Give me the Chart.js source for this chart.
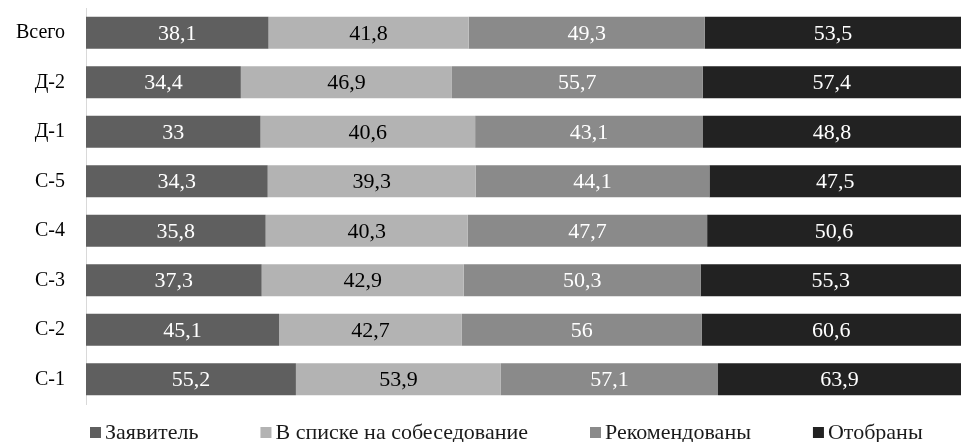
<!DOCTYPE html>
<html>
<head>
<meta charset="utf-8">
<script src="https://cdn.jsdelivr.net/npm/chart.js@4"></script>
<style>
  html, body { margin: 0; padding: 0; background: #fff; }
  #wrap { width: 961px; height: 442px; position: relative; }
</style>
</head>
<body>
<div id="wrap"><canvas id="chart"></canvas></div>
<script>
// ==== данные ====
const categories = ["Всего", "Д-2", "Д-1", "С-5", "С-4", "С-3", "С-2", "С-1"];
const seriesNames = ["Заявитель", "В списке на собеседование", "Рекомендованы", "Отобраны"];
const applicants = [38.1, 34.4, 33, 34.3, 35.8, 37.3, 45.1, 55.2];
const interviewList = [41.8, 46.9, 40.6, 39.3, 40.3, 42.9, 42.7, 53.9];
const recommended = [49.3, 55.7, 43.1, 44.1, 47.7, 50.3, 56, 57.1];
const selected = [53.5, 57.4, 48.8, 47.5, 50.6, 55.3, 60.6, 63.9];

const colors = ["#5f5f5f", "#b3b3b3", "#8a8a8a", "#222222"];
const labelColors = ["#ffffff", "#000000", "#ffffff", "#ffffff"];
const FONT = "'Liberation Serif', 'Times New Roman', serif";

const rawSeries = [applicants, interviewList, recommended, selected];

// доли (100% с накоплением)
const totals = categories.map((c, i) => rawSeries.reduce((s, arr) => s + arr[i], 0));
const shares = rawSeries.map(arr => arr.map((v, i) => v / totals[i] * 100));

// подписи значений внутри сегментов
const valueLabels = {
    id: "valueLabels",
    afterDatasetsDraw(chart) {
        const ctx = chart.ctx;
        ctx.save();
        ctx.font = "22px " + FONT;
        ctx.textAlign = "center";
        ctx.textBaseline = "middle";
        chart.data.datasets.forEach((ds, di) => {
            chart.getDatasetMeta(di).data.forEach((bar, i) => {
                const cx = (bar.x + bar.base) / 2;
                ctx.fillStyle = labelColors[di];
                ctx.fillText(String(rawSeries[di][i]).replace(".", ","), cx, bar.y + 1);
            });
        });
        ctx.restore();
    }
};

// легенда внизу, как в Excel
const bottomLegend = {
    id: "bottomLegend",
    afterDraw(chart) {
        const ctx = chart.ctx;
        ctx.save();
        ctx.font = "22px " + FONT;
        ctx.textBaseline = "middle";
        let x = 90;
        const y = 433;
        chart.data.datasets.forEach((ds, di) => {
            ctx.fillStyle = colors[di];
            ctx.fillRect(x, y - 6, 11, 11);
            ctx.fillStyle = "#1a1a1a";
            ctx.fillText(ds.label, x + 15, y);
            x += 15 + ctx.measureText(ds.label).width + 62;
        });
        ctx.restore();
    }
};

new Chart(document.getElementById("chart"), {
    type: "bar",
    data: {
        labels: categories,
        datasets: seriesNames.map((name, di) => ({
            label: name,
            data: shares[di],
            backgroundColor: colors[di],
            borderWidth: 0,
            barPercentage: 0.65,
            categoryPercentage: 1
        }))
    },
    options: {
        indexAxis: "y",
        responsive: true,
        maintainAspectRatio: false,
        animation: false,
        layout: { padding: { top: 8, bottom: 38, left: 0, right: 0 } },
        plugins: {
            legend: { display: false },
            tooltip: { enabled: false }
        },
        scales: {
            x: {
                stacked: true,
                min: 0,
                max: 100,
                display: false
            },
            y: {
                stacked: true,
                grid: { display: false, drawTicks: false },
                border: { display: true, color: "#d9d9d9", width: 1 },
                ticks: {
                    color: "#000",
                    padding: 21,
                    font: { family: FONT, size: 20 }
                },
                afterFit(scale) {
                    scale.width = 86;
                    scale.paddingTop = 0;
                    scale.paddingBottom = 0;
                }
            }
        }
    },
    plugins: [valueLabels, bottomLegend]
});
</script>
</body>
</html>
